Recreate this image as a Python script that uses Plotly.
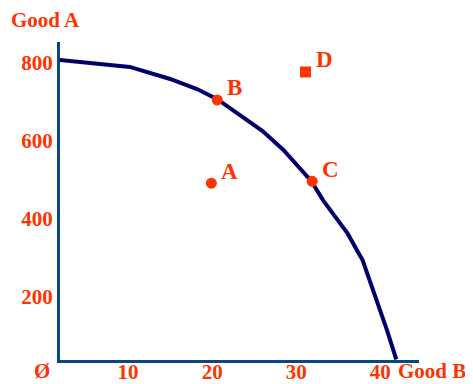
import plotly.graph_objects as go

# production possibilities frontier (Good B on x, Good A on y)
ppf_b = [1.7, 6.1, 10.2, 15.0, 18.2, 20.6, 23.3, 26.0, 28.5, 31.8, 33.2, 36.1, 37.9, 39.6, 40.8, 41.9]
ppf_a = [808, 800, 790, 759, 733, 707, 666, 625, 576, 496, 447, 362, 293, 190, 113, 38]

point_names = ["A", "B", "C", "D"]
point_b = [19.9, 20.6, 31.9, 31.1]
point_a = [491, 705, 496, 777]
point_symbols = ["circle", "circle", "circle", "square"]

x_ticks = [10, 20, 30, 40]
y_ticks = [200, 400, 600, 800]

RED = "#ff3300"
NAVY = "#00006b"
AXIS = "#0a4780"
FONT = "Liberation Serif"

fig = go.Figure()

fig.add_scatter(x=ppf_b, y=ppf_a, mode="lines",
                line=dict(color=NAVY, width=4), hoverinfo="skip")

fig.add_scatter(x=point_b, y=point_a, mode="markers",
                marker=dict(color=RED, size=11, symbol=point_symbols),
                hoverinfo="skip")

for name, b, a in zip(point_names, point_b, point_a):
    fig.add_annotation(x=b, y=a, text=name, showarrow=False,
                       xanchor="left", yanchor="middle", xshift=8, yshift=12,
                       font=dict(family=FONT, size=23, color=RED, weight="bold"))

axis_font = dict(family=FONT, size=21, color=RED, weight="bold")

fig.add_annotation(xref="paper", yref="paper", x=-0.05, y=-0.034, text="Ø",
                   showarrow=False, xanchor="center", yanchor="middle", font=axis_font)
fig.add_annotation(xref="paper", yref="paper", x=0.936, y=-0.034, text="Good B",
                   showarrow=False, xanchor="left", yanchor="middle", font=axis_font)
fig.add_annotation(xref="paper", yref="paper", x=-0.139, y=1.07, text="Good A",
                   showarrow=False, xanchor="left", yanchor="middle", borderpad=0,
                   font=axis_font)

fig.update_xaxes(range=[1.9, 44.6], tickvals=x_ticks, ticks="", showgrid=False,
                 zeroline=False, showline=True, linecolor=AXIS, linewidth=3,
                 tickfont=axis_font, automargin=False, ticklabelstandoff=-9)
fig.update_yaxes(range=[36.6, 854], tickvals=y_ticks, ticks="", showgrid=False,
                 zeroline=False, showline=True, linecolor=AXIS, linewidth=3,
                 tickfont=axis_font, automargin=False)

fig.update_layout(width=473, height=384, showlegend=False,
                  margin=dict(l=52, r=62, t=34, b=32),
                  plot_bgcolor="white", paper_bgcolor="white")

fig.write_html("out.html")
